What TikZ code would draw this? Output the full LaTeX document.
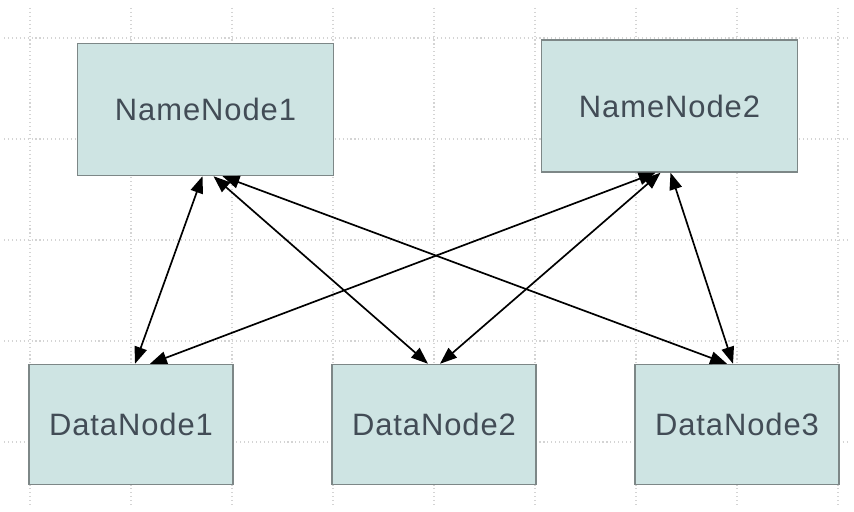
\documentclass[tikz,border=0pt]{standalone}
\usepackage{fontspec}
\setmainfont{Liberation Sans}[LetterSpace=3]
\usetikzlibrary{arrows.meta}

\definecolor{boxfill}{RGB}{206,228,227}
\definecolor{boxline}{RGB}{125,135,135}
\definecolor{boxtext}{RGB}{66,76,86}
\definecolor{gridgray}{RGB}{212,212,212}

\tikzset{
  hdfs/.style={draw=boxline, line width=1pt, fill=boxfill, text=boxtext,
    font=\fontsize{22}{26}\selectfont, inner sep=0pt},
  namebox/.style={hdfs, minimum width=6.4cm, minimum height=3.3cm},
  databox/.style={hdfs, minimum width=5.1cm, minimum height=3.0cm},
  link/.style={arrows={Triangle[length=12pt, width=9pt]-Triangle[length=12pt, width=9pt]}, line width=1.2pt}
}

\begin{document}
\begin{tikzpicture}[x=0.025cm, y=-0.025cm]
\useasboundingbox (0,0) rectangle (854,512);
\fill[white] (0,0) rectangle (854,512);

% dotted grid behind the boxes
\foreach \gx in {30,131,232,333,434,535,636,737,838}
  \draw[gridgray, dotted, line width=0.8pt] (\gx,8) -- (\gx,508);
\foreach \gy in {38,139,240,341,442}
  \draw[gridgray, dotted, line width=0.8pt] (4,\gy) -- (850,\gy);

\node[namebox] (n1) at (205.5,109.5) {NameNode1};
\node[namebox] (n2) at (669.5,106) {NameNode2};
\node[databox] (d1) at (131,424.5) {DataNode1};
\node[databox] (d2) at (434,424.5) {DataNode2};
\node[databox] (d3) at (737,424.5) {DataNode3};

\draw[link] ([shift={(4,0)}]d1.north) -- ([shift={(-3,0)}]n1.south);
\draw[link] ([shift={(-6,0)}]d2.north) -- ([shift={(8,0)}]n1.south);
\draw[link] ([shift={(-10,0)}]d3.north) -- ([shift={(17,0)}]n1.south);
\draw[link] ([shift={(19,0)}]d1.north) -- ([shift={(-14,0)}]n2.south);
\draw[link] ([shift={(6,0)}]d2.north) -- ([shift={(-9,0)}]n2.south);
\draw[link] ([shift={(-4,0)}]d3.north) -- ([shift={(1,0)}]n2.south);
\end{tikzpicture}
\end{document}
